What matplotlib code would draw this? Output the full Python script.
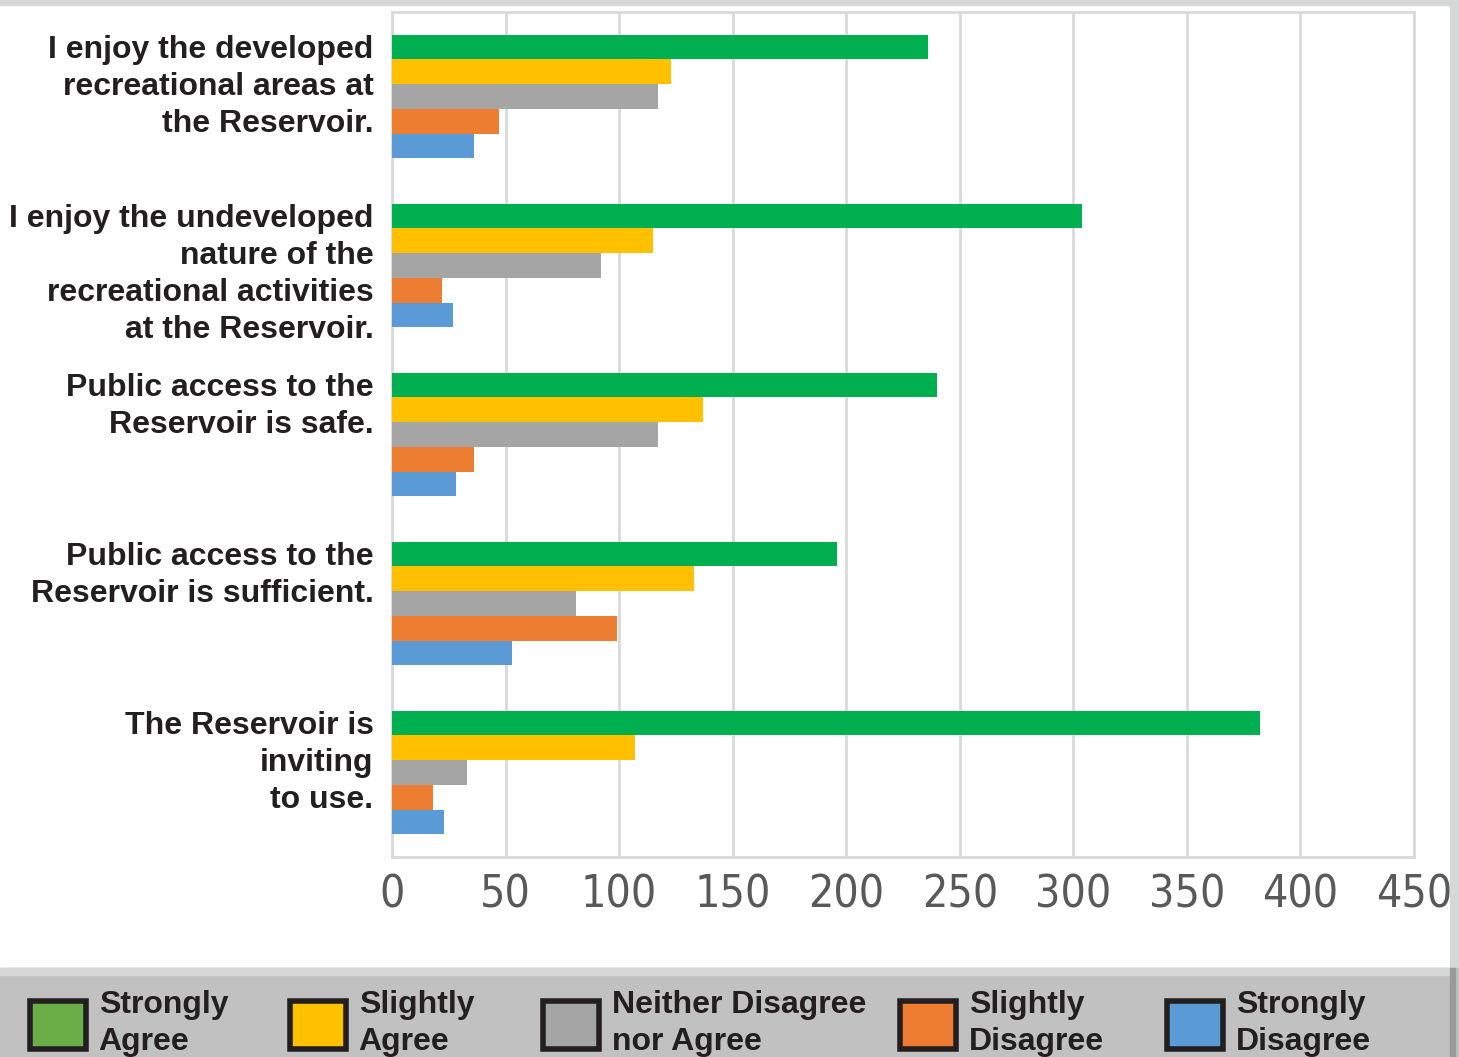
import matplotlib
matplotlib.use("Agg")
import matplotlib.pyplot as plt
from matplotlib.patches import Patch, Rectangle
import matplotlib.transforms as mtransforms
import numpy as np

categories = [
    "I enjoy the developed\nrecreational areas at\nthe Reservoir.",
    "I enjoy the undeveloped\nnature of the\nrecreational activities\nat the Reservoir.",
    "Public access to the\nReservoir is safe.",
    "Public access to the\nReservoir is sufficient.",
    "The Reservoir is\ninviting\nto use.",
]
series_names = ["Strongly\nAgree", "Slightly\nAgree", "Neither Disagree\nnor Agree",
                "Slightly\nDisagree", "Strongly\nDisagree"]
strongly_agree = [236, 304, 240, 196, 382]
slightly_agree = [123, 115, 137, 133, 107]
neither = [117, 92, 117, 81, 33]
slightly_disagree = [47, 22, 36, 99, 18]
strongly_disagree = [36, 27, 28, 53, 23]
xticks = [0, 50, 100, 150, 200, 250, 300, 350, 400, 450]

bar_colors = ["#00b050", "#ffc000", "#a5a5a5", "#ed7d31", "#5b9bd5"]
legend_colors = ["#6aae47", "#ffc000", "#a5a5a5", "#ee7d31", "#5b9bd5"]
legend_x_px = [30, 290, 543, 900, 1167]

label_font = ["Liberation Sans", "DejaVu Sans"]

W, H = 1459, 1057
fig = plt.figure(figsize=(W / 100, H / 100), dpi=100)
fig.patch.set_facecolor("white")

# frame decorations
fig.patches.append(Rectangle((0, 1 - 5 / H), 1, 5 / H, transform=fig.transFigure,
                             color="#d6d7d9", zorder=0))
fig.patches.append(Rectangle((1450 / W, 0), 9 / W, 1, transform=fig.transFigure,
                             color="#d6d7d9", zorder=0))
fig.patches.append(Rectangle((0, 0), 1, (H - 968) / H, transform=fig.transFigure,
                             color="#c1c1c1", zorder=0))
fig.patches.append(Rectangle((0, (H - 975) / H), 1450 / W, 7 / H, transform=fig.transFigure,
                             color="#d6d7d9", zorder=0))
fig.patches.append(Rectangle((1450 / W, 0), 5 / W, (H - 968) / H, transform=fig.transFigure,
                             color="#9a9a9a", zorder=0))

ax = fig.add_axes([392 / W, 1 - 857 / H, (1414 - 392) / W, (857 - 12) / H])
ax.set_facecolor("white")

values = [strongly_agree, slightly_agree, neither, slightly_disagree, strongly_disagree]
n = len(categories)
y = np.arange(n)
h = 0.146
for k, (vals, col) in enumerate(zip(values, bar_colors)):
    ax.barh(y + (k - 2) * h, vals, height=h, color=col, zorder=3)

ax.set_ylim(n - 0.5, -0.5)
ax.set_xlim(0, 450)
ax.set_xticks(xticks)
ax.set_xticklabels([str(t) for t in xticks], fontsize=32, color="#595959",
                   family="DejaVu Sans", fontstretch="condensed")
ax.tick_params(axis="x", length=0, pad=12)
ax.set_yticks([])
ax.grid(axis="x", color="#d9d9d9", linewidth=2, zorder=0)
for s in ax.spines.values():
    s.set_color("#d9d9d9")
    s.set_linewidth(2)

trans = mtransforms.blended_transform_factory(ax.transAxes, ax.transData)
for i, cat in enumerate(categories):
    ax.text(-0.018, i - 2.5 * h, cat, transform=trans, ha="right", va="top",
            multialignment="right", fontsize=23, fontweight="bold", color="#231f20",
            family=label_font, linespacing=1.3)

for name, col, xp in zip(series_names, legend_colors, legend_x_px):
    handle = Patch(facecolor=col, edgecolor="#231f20", linewidth=4)
    leg = fig.legend([handle], [name], loc="upper left",
                     bbox_to_anchor=(xp / W, 1 - 990 / H), frameon=False,
                     borderpad=0, borderaxespad=0, handlelength=1.75, handleheight=1.95,
                     handletextpad=0.4,
                     prop=dict(family=label_font, weight="bold", size=23))
    for t in leg.get_texts():
        t.set_color("#231f20")
        t.set_linespacing(1.3)

fig.savefig("out.png", dpi=100, facecolor=fig.get_facecolor())
